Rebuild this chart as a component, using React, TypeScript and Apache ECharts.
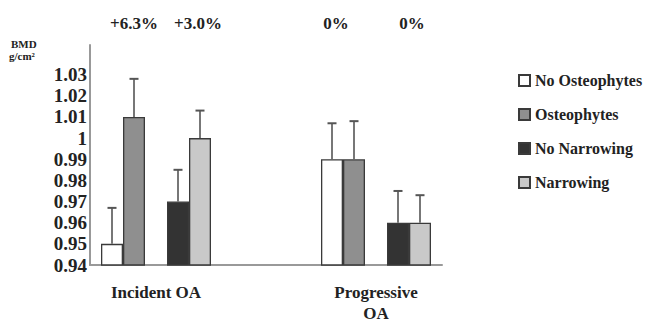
import React, { useEffect, useRef } from "react";
import * as echarts from "echarts";

const groups = ["Incident OA", "Progressive\nOA"];
const seriesNames = ["No Osteophytes", "Osteophytes", "No Narrowing", "Narrowing"];
const noOsteophytes = [0.95, 0.99];
const osteophytes = [1.01, 0.99];
const noNarrowing = [0.97, 0.96];
const narrowing = [1.0, 0.96];
const errNoOsteophytes = [0.017, 0.017];
const errOsteophytes = [0.018, 0.018];
const errNoNarrowing = [0.015, 0.015];
const errNarrowing = [0.013, 0.013];
const changeLabels = ["+6.3%", "+3.0%", "0%", "0%"];
const yTicks = [0.94, 0.95, 0.96, 0.97, 0.98, 0.99, 1.0, 1.01, 1.02, 1.03];

const FONT = "Liberation Serif";
const colors = ["#ffffff", "#8f8f8f", "#333333", "#c9c9c9"];

// layout: 17 slot category axis; groups sit at slots 3 and 13
const SLOT_COUNT = 17;
const GROUP_SLOTS = [3, 13];
const BAR_W = 22;

export default function App() {
  const ref = useRef<HTMLDivElement>(null);
  useEffect(() => {
    if (!ref.current) return;
    const chart = echarts.init(ref.current, null, { renderer: "svg" });
    const slots: string[] = Array.from({ length: SLOT_COUNT }, () => "");
    GROUP_SLOTS.forEach((s, i) => (slots[s] = groups[i]));

    const values = [noOsteophytes, osteophytes, noNarrowing, narrowing];
    const errs = [errNoOsteophytes, errOsteophytes, errNoNarrowing, errNarrowing];
    const slotIndexOfSeries = [0, 1, 3, 4]; // spacer at 2

    const toSlotData = (arr: number[]) => {
      const d: (number | null)[] = Array.from({ length: SLOT_COUNT }, () => null);
      GROUP_SLOTS.forEach((s, i) => (d[s] = arr[i]));
      return d;
    };

    const barSeries: any[] = [];
    values.forEach((arr, i) => {
      if (i === 2) {
        barSeries.push({
          name: "spacer",
          type: "bar",
          barWidth: BAR_W,
          barGap: "0%",
          data: Array.from({ length: SLOT_COUNT }, () => null),
        });
      }
      barSeries.push({
        name: seriesNames[i],
        type: "bar",
        barWidth: BAR_W,
        barGap: "0%",
        data: toSlotData(arr),
        itemStyle: { color: colors[i], borderColor: "#3a3a3a", borderWidth: 1.3 },
      });
    });

    const errSeries = values.map((arr, i) => ({
      type: "custom",
      name: "err" + i,
      z: 5,
      data: GROUP_SLOTS.map((s, g) => [s, arr[g], errs[i][g]]),
      renderItem: (params: any, api: any) => {
        const offset = (slotIndexOfSeries[i] - 2) * BAR_W;
        const base = api.coord([api.value(0), api.value(1)]);
        const top = api.coord([api.value(0), api.value(1) + api.value(2)]);
        const x = base[0] + offset;
        const style = { stroke: "#555", lineWidth: 1.6 };
        return {
          type: "group",
          children: [
            { type: "line", shape: { x1: x, y1: base[1], x2: x, y2: top[1] }, style },
            { type: "line", shape: { x1: x - 4.5, y1: top[1], x2: x + 4.5, y2: top[1] }, style: { stroke: "#555", lineWidth: 2 } },
          ],
        };
      },
    }));

    const annX = [134, 198, 336, 412];
    const txt = (size: number) => ({ fontFamily: FONT, fontWeight: "bold", fontSize: size, fill: "#222" });
    const graphic: any[] = [
      { type: "text", left: 11, top: 38, style: { text: "BMD", ...txt(11) } },
      { type: "text", left: 9, top: 50, style: { text: "g/cm²", ...txt(11) } },
      ...changeLabels.map((t, i) => ({
        type: "text",
        x: annX[i],
        y: 23,
        style: { text: t, ...txt(17), align: "center", verticalAlign: "middle" },
      })),
    ];

    chart.setOption({
      animation: false,
      textStyle: { fontFamily: FONT },
      grid: { left: 90, right: 203, top: 45, bottom: 54 },
      legend: {
        data: seriesNames,
        orient: "vertical",
        left: 513,
        top: 67,
        itemWidth: 11,
        itemHeight: 11,
        itemGap: 17,
        icon: "rect",
        textStyle: { fontFamily: FONT, fontWeight: "bold", fontSize: 16, color: "#222", lineHeight: 17 },
      },
      xAxis: {
        type: "category",
        boundaryGap: false,
        data: slots,
        axisTick: { show: false },
        axisLine: { lineStyle: { color: "#999", width: 2 } },
        axisLabel: {
          interval: 0,
          margin: 17,
          fontFamily: FONT,
          fontWeight: "bold",
          fontSize: 17,
          color: "#222",
          lineHeight: 21,
          verticalAlign: "top",
        },
      },
      yAxis: {
        type: "value",
        min: 0.94,
        max: 1.044,
        interval: 0.01,
        splitLine: { show: false },
        axisTick: { show: false },
        axisLine: { show: true, lineStyle: { color: "#999", width: 2 } },
        axisLabel: {
          margin: 3,
          fontFamily: FONT,
          fontWeight: "bold",
          fontSize: 19,
          color: "#222",
          formatter: (v: number) => {
            const r = Number(v.toFixed(2));
            return yTicks.some((t) => Math.abs(t - r) < 1e-6) ? String(r) : "";
          },
        },
      },
      graphic,
      series: [...barSeries, ...errSeries],
    });
    return () => chart.dispose();
  }, []);
  return <div ref={ref} style={{ width: 645, height: 324, position: "absolute", left: 0, top: 0 }} />;
}
